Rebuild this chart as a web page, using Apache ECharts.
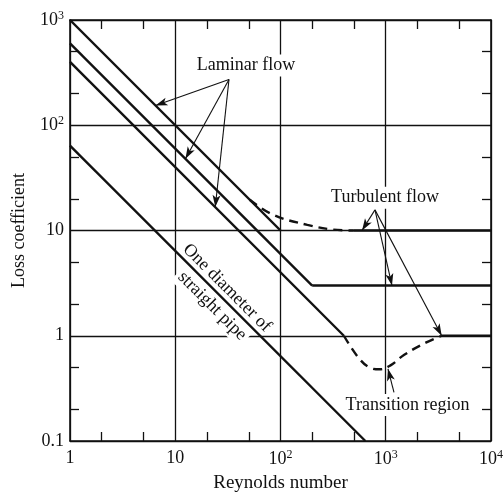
<!DOCTYPE html>
<html>
<head>
<meta charset="utf-8">
<script src="https://cdn.jsdelivr.net/npm/echarts@6/dist/echarts.min.js"></script>
<style>
  html, body { margin: 0; padding: 0; background: #fff; }
  #chart { width: 503px; height: 494px; }
</style>
</head>
<body>
<div id="chart"></div>
<script>
// Axis ranges (log-log)
const reRange = [1, 10000];
const kRange = [0.1, 1000];
const minorTicksX = [2, 5, 20, 50, 200, 500, 2000, 5000];
const minorTicksY = [0.2, 0.5, 2, 5, 20, 50, 200, 500];

// Laminar lines, K = C / Re
const laminarTop = [[1, 1000], [100, 10]];
const laminarMid = [[1, 600], [200, 3]];
const laminarLow = [[1, 400], [400, 1]];
const straightPipe = [[1, 64], [640, 0.1]];

// Turbulent plateaus
const turbulentTop = [[490, 10], [10000, 10]];
const turbulentMid = [[200, 3], [10000, 3]];
const turbulentLow = [[3400, 1], [10000, 1]];

// Transition curves (dashed)
const transitionTop = [[51, 19.6], [85, 14.1], [180, 11.3], [315, 10.2], [490, 10]];
const transitionLow = [[400, 1], [550, 0.62], [700, 0.5], [880, 0.48], [1100, 0.52], [1500, 0.66], [2400, 0.86], [3400, 1]];

// Annotation arrows: [from, to] in (Re, K)
const laminarArrows = [
  [[32.4, 272], [6.5, 154]],
  [[32.4, 272], [12.5, 48]],
  [[32.4, 272], [24, 16.7]]
];
const turbulentArrows = [
  [[790, 15.7], [595, 10]],
  [[790, 15.7], [1146, 3]],
  [[790, 15.7], [3400, 1]]
];
const transitionArrows = [
  [[1197, 0.29], [1050, 0.485]]
];

// Text annotations: [text, Re, K, rotation in degrees, white backing]
const notes = [
  ['Laminar flow', 47, 369, 0, true],
  ['Turbulent flow', 984, 20.5, 0, true],
  ['Transition region', 1610, 0.22, 0, true],
  ['One diameter of', 31, 2.85, -45, false],
  ['straight pipe', 22.4, 1.92, -45, true]
];

const FONT = 'Liberation Serif';
const INK = '#111';

function powLabel(v) {
  const e = Math.round(Math.log10(v));
  if (e === -1) return '0.1';
  if (e === 0) return '1';
  if (e === 1) return '10';
  return '10{s|' + e + '}';
}
const labelRich = {
  s: { fontFamily: FONT, fontSize: 12, color: INK, padding: [0, 0, 9, 0] }
};

const chart = echarts.init(document.getElementById('chart'), null, { renderer: 'canvas' });

function lineSeries(data, dashed) {
  return {
    type: 'line',
    data: data,
    showSymbol: false,
    symbol: 'none',
    smooth: dashed ? 0.4 : false,
    silent: true,
    animation: false,
    lineStyle: { color: INK, width: 2.4, type: dashed ? [9, 6] : 'solid' }
  };
}

function arrowSeries(pairs) {
  return {
    type: 'line',
    data: [],
    silent: true,
    animation: false,
    markLine: {
      silent: true,
      animation: false,
      symbol: ['none', 'arrow'],
      symbolSize: [6, 12],
      label: { show: false },
      lineStyle: { color: INK, width: 1.1, type: 'solid' },
      data: pairs.map(p => [{ coord: p[0] }, { coord: p[1] }])
    }
  };
}

const baseAxis = {
  type: 'log',
  logBase: 10,
  axisLine: { show: true, lineStyle: { color: INK, width: 1.6 } },
  axisTick: { show: true, inside: true, length: 9, lineStyle: { color: INK, width: 1.3 } },
  splitLine: { show: false },
  axisLabel: { show: false }
};

const option = {
  backgroundColor: '#fff',
  animation: false,
  grid: { left: 70, right: 12, top: 20, bottom: 53, outerBoundsMode: 'none', containLabel: false },
  xAxis: [
    Object.assign({}, baseAxis, {
      min: reRange[0], max: reRange[1], position: 'bottom',
      axisTick: Object.assign({}, baseAxis.axisTick, { customValues: minorTicksX }),
      axisLabel: { show: true, margin: 8, fontFamily: FONT, fontSize: 18, color: INK,
        formatter: powLabel, rich: labelRich },
      name: 'Reynolds number', nameLocation: 'middle', nameGap: 30,
      nameTextStyle: { fontFamily: FONT, fontSize: 19, color: INK }
    }),
    Object.assign({}, baseAxis, {
      min: reRange[0], max: reRange[1], position: 'top',
      axisTick: Object.assign({}, baseAxis.axisTick, { customValues: minorTicksX })
    }),
    Object.assign({}, baseAxis, {
      min: reRange[0], max: reRange[1], position: 'bottom',
      axisLine: { show: false }, axisTick: { show: false },
      splitLine: { show: true, lineStyle: { color: INK, width: 1.3 } }
    })
  ],
  yAxis: [
    Object.assign({}, baseAxis, {
      min: kRange[0], max: kRange[1], position: 'left',
      axisTick: Object.assign({}, baseAxis.axisTick, { customValues: minorTicksY }),
      axisLabel: { show: true, margin: 6, fontFamily: FONT, fontSize: 18, color: INK,
        formatter: powLabel, rich: labelRich },
      name: 'Loss coefficient', nameLocation: 'middle', nameGap: 42, nameRotate: 90,
      nameTextStyle: { fontFamily: FONT, fontSize: 18, color: INK }
    }),
    Object.assign({}, baseAxis, {
      min: kRange[0], max: kRange[1], position: 'right',
      axisTick: Object.assign({}, baseAxis.axisTick, { customValues: minorTicksY })
    }),
    Object.assign({}, baseAxis, {
      min: kRange[0], max: kRange[1], position: 'left',
      axisLine: { show: false }, axisTick: { show: false },
      splitLine: { show: true, lineStyle: { color: INK, width: 1.3 } }
    })
  ],
  series: [
    lineSeries(laminarTop), lineSeries(laminarMid), lineSeries(laminarLow), lineSeries(straightPipe),
    lineSeries(turbulentTop), lineSeries(turbulentMid), lineSeries(turbulentLow),
    lineSeries(transitionTop, true), lineSeries(transitionLow, true),
    arrowSeries(laminarArrows), arrowSeries(turbulentArrows), arrowSeries(transitionArrows)
  ]
};

chart.setOption(option);

// Place the text notes at their data positions
const graphics = notes.map(n => {
  const p = chart.convertToPixel({ xAxisIndex: 0, yAxisIndex: 0 }, [n[1], n[2]]);
  return {
    type: 'text',
    x: p[0], y: p[1],
    rotation: n[3] * Math.PI / 180,
    z: 50,
    style: {
      text: n[0],
      fontFamily: FONT, fontSize: 18, fill: INK,
      align: 'center', verticalAlign: 'middle',
      backgroundColor: n[4] ? '#fff' : null,
      padding: n[4] ? [2, 3] : 0
    }
  };
});
chart.setOption({ graphic: graphics });
</script>
</body>
</html>
